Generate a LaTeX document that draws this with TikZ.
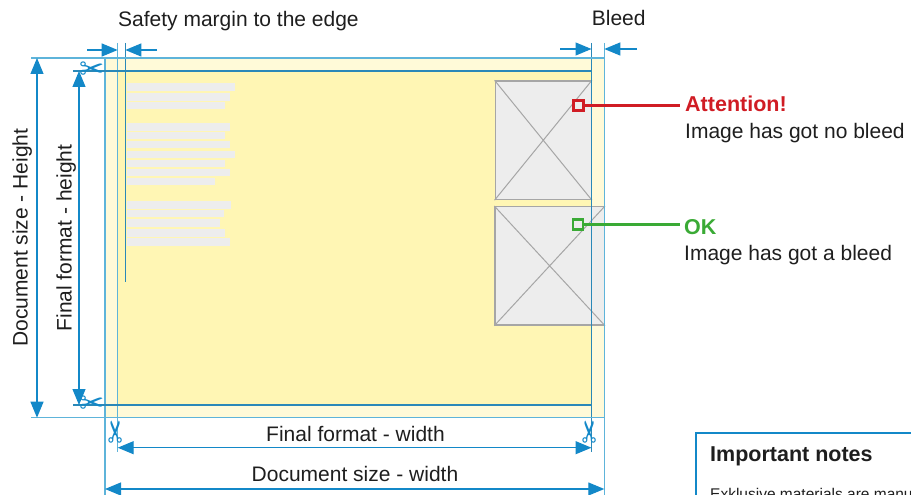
\documentclass[tikz,border=0pt]{standalone}
\usepackage{fontspec}
\setmainfont{Liberation Sans}
\newfontfamily\scissorfont{DejaVu Sans}
\usetikzlibrary{arrows.meta,positioning}
\definecolor{dimblue}{HTML}{1388C8}
\definecolor{guideblue}{HTML}{5EB4DA}
\definecolor{trimblue}{HTML}{2A88B8}
\definecolor{bleedcream}{HTML}{FFFAD8}
\definecolor{trimyellow}{HTML}{FFF6B4}
\definecolor{boxgray}{HTML}{EDEDED}
\definecolor{linegray}{HTML}{A6A6A6}
\definecolor{attred}{HTML}{D01C24}
\definecolor{okgreen}{HTML}{3AAA35}
\definecolor{inkgray}{HTML}{1E1E1E}

\begin{document}
\begin{tikzpicture}[x=1pt,y=-1pt,
  lbl/.style={text=inkgray, font=\fontsize{21}{25}\selectfont, inner sep=0pt},
  headlbl/.style={font=\bfseries\fontsize{21.5}{25}\selectfont, inner sep=0pt},
  dim/.style={draw=dimblue, line width=1.2pt, {Triangle[length=16pt,width=13pt]}-{Triangle[length=16pt,width=13pt]}},
  dimin/.style={draw=dimblue, line width=1.2pt, -{Triangle[length=16pt,width=13pt]}},
  guide/.style={draw=guideblue, line width=1.5pt},
  trimguide/.style={draw=trimblue, line width=1.3pt},
  imgbox/.style={draw=linegray, fill=boxgray, line width=1.4pt, inner sep=0pt},
  imgline/.style={draw=linegray, line width=1pt},
  marker/.style={draw, line width=2.2pt, fill=boxgray, minimum size=10pt, inner sep=0pt},
  scissor/.style={text=dimblue, font=\scissorfont\fontsize{30}{30}\selectfont, inner sep=0pt},
  textbar/.style={fill=boxgray}]
\useasboundingbox (0,0) rectangle (911,495);
\clip (0,0) rectangle (911,495);

% document size and final format:
\fill[bleedcream] (105,58) rectangle (604.3,417.7);
\fill[trimyellow] (117.7,71) rectangle (591.5,405);

% placeholder text lines:
\foreach \y/\r in {83.3/235, 93.3/229.7, 101.7/225,
  123.3/229.7, 132/225, 141/229.7, 151/235, 160/225, 169/229.7, 177.7/215,
  201.3/231, 210/224, 219.3/219.7, 229.3/225, 238.3/229.7}
  \fill[textbar] (126.7,\y) rectangle (\r,\y+7.4);

% images:
\node[imgbox, minimum width=96pt, minimum height=118.5pt] (imgA) at (543.25,140.25) {};
\draw[imgline] (imgA.north west) -- (imgA.south east) (imgA.south west) -- (imgA.north east);
\node[imgbox, minimum width=109.3pt, minimum height=118.3pt] (imgB) at (549.65,265.85) {};
\draw[imgline] (imgB.north west) -- (imgB.south east) (imgB.south west) -- (imgB.north east);

% guide lines:
\draw[guide] (105,58) -- (105,495);
\draw[guide] (117.7,43) -- (117.7,452);
\draw[guide] (604.3,43) -- (604.3,495);
\draw[trimguide] (591.5,43) -- (591.5,452);
\draw[trimguide] (125.3,43) -- (125.3,282);
\draw[guide] (31,58) -- (604.3,58);
\draw[guide] (31,417.7) -- (604.3,417.7);
\draw[trimguide] (73,71) -- (591.5,71);
\draw[trimguide] (73,405) -- (591.5,405);

% dimension ends:
\coordinate (dhT) at (37,58); \coordinate (dhB) at (37,417.7);
\coordinate (fhT) at (79,71); \coordinate (fhB) at (79,405);
\coordinate (fwL) at (117.7,447.7); \coordinate (fwR) at (591.5,447.7);
\coordinate (dwL) at (105,489); \coordinate (dwR) at (604.3,489);
\coordinate (smOut) at (87,50); \coordinate (smL) at (117.7,50);
\coordinate (smIn) at (157,50); \coordinate (smR) at (125.3,50);
\coordinate (blOut) at (560,49); \coordinate (blL) at (591.5,49);
\coordinate (blIn) at (637,49); \coordinate (blR) at (604.3,49);

\draw[dim] (dhT) -- (dhB);
\draw[dim] (fhT) -- (fhB);
\draw[dim] (fwL) -- (fwR);
\draw[dim] (dwL) -- (dwR);
\draw[dimin] (smOut) -- (smL); \draw[dimin] (smIn) -- (smR);
\draw[dimin] (blOut) -- (blL); \draw[dimin] (blIn) -- (blR);

% cut marks:
\node[scissor] (cutTL) at (92,71) {✂};
\node[scissor] (cutBL) at (92,405) {✂};
\node[scissor, rotate=90] (cutLB) at (118,432) {✂};
\node[scissor, rotate=90] (cutRB) at (591.5,432) {✂};

% labels:
\node[lbl, anchor=base west] (safetylbl) at (118,26.5) {Safety margin to the edge};
\node[lbl, anchor=base west] (bleedlbl) at (591.7,26) {Bleed};
\node[lbl, anchor=base] (fwlbl) at (355.5,441.7) {Final format - width};
\node[lbl, anchor=base] (dwlbl) at (355,481) {Document size - width};
\node[lbl, rotate=90, anchor=base] (dhlbl) at (27.5,237.7) {Document size - Height};
\node[lbl, rotate=90, anchor=base] (fhlbl) at (71.7,238) {Final format - height};

% callouts:
\node[marker, draw=attred] (noBleed) at (578.5,105.5) {};
\node[headlbl, text=attred, anchor=base west] (attlbl) at (685,111.7) {Attention!};
\node[lbl, anchor=base west] (attnote) at (685,139) {Image has got no bleed};
\draw[attred, line width=2.2pt] (noBleed.east) -- ([xshift=-5pt]noBleed.east -| attlbl.west);
\node[marker, draw=okgreen] (withBleed) at (578,224.5) {};
\node[headlbl, text=okgreen, anchor=base west] (oklbl) at (684,234) {OK};
\node[lbl, anchor=base west] (oknote) at (684,260) {Image has got a bleed};
\draw[okgreen, line width=2.2pt] (withBleed.east) -- ([xshift=-4pt]withBleed.east -| oklbl.west);

% notes box:
\draw[draw=dimblue, line width=2.2pt] (695.7,432.7) rectangle (940,530);
\node[headlbl, text=inkgray, anchor=base west] (notehead) at (710,461.7) {Important notes};
\node[text=inkgray, font=\fontsize{15.5}{18}\selectfont, inner sep=0pt, anchor=base west] (notetext) at (710,499.5) {Exklusive materials are manu};
\end{tikzpicture}
\end{document}
